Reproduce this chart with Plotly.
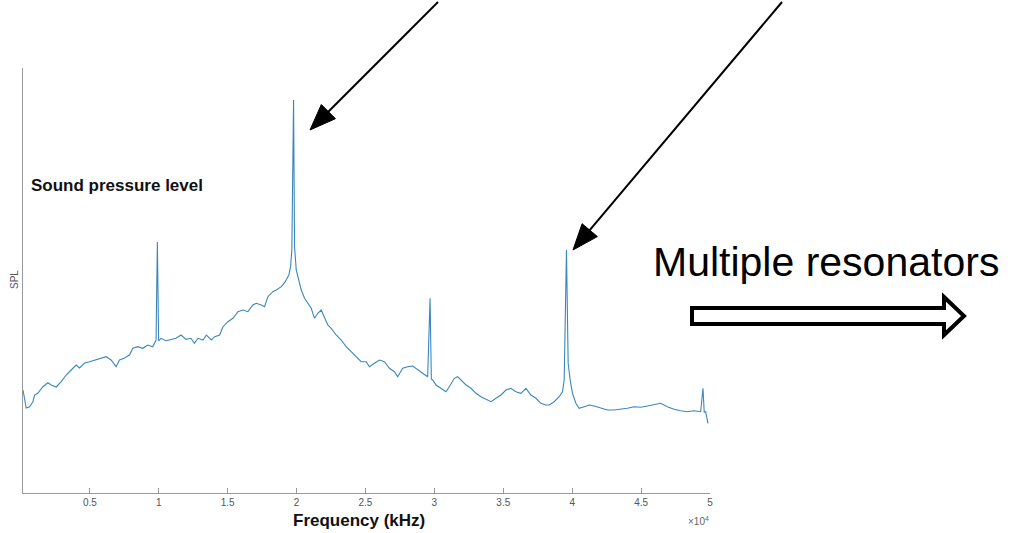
import math
import plotly.graph_objects as go

# Frequency (Hz) and SPL (arbitrary units)
freq_hz = [150, 384, 630, 870, 993, 1232, 1594, 1956, 2196, 2558, 2920, 3282, 3645, 4007, 4253,
           4616, 4978, 5340, 5819, 6181, 6543, 6906, 7152, 7514, 7876, 8116, 8478, 8841, 9203,
           9565, 9804, 9900, 9990, 10166, 10528, 10891, 11253, 11615, 11978, 12340, 12587,
           12847, 13210, 13456, 13818, 14057, 14420, 14659, 15021, 15383, 15746, 16108, 16470,
           16832, 17079, 17441, 17680, 17919, 18282, 18528, 18891, 19180, 19441, 19564, 19658,
           19782, 19854, 19977, 20093, 20339, 20579, 20818, 21064, 21303, 21542, 21789, 22028,
           22267, 22513, 22876, 23238, 23600, 23962, 24325, 24687, 25049, 25289, 25651, 26013,
           26375, 26738, 27100, 27339, 27701, 28064, 28426, 28789, 29151, 29513, 29687, 29780,
           29875, 30121, 30484, 30846, 31085, 31448, 31687, 31933, 32296, 32658, 33020, 33382,
           33745, 34107, 34469, 34832, 35194, 35556, 35918, 36281, 36643, 37005, 37368, 37730,
           38092, 38331, 38694, 39056, 39295, 39418, 39585, 39708, 39853, 40019, 40266, 40505,
           40867, 41229, 41592, 42077, 42556, 43041, 43526, 44005, 44490, 44975, 45461, 45940,
           46425, 46904, 47389, 47874, 48352, 48837, 49323, 49490, 49580, 49685, 49852]
spl = [103, 85, 86.3, 91.3, 98, 100, 106.3, 110.3, 108, 106, 111.3, 118, 123, 128, 125,
       130, 131.3, 133, 135, 136.3, 133, 126.3, 133, 135, 138, 144.7, 146.3, 144.7, 148,
       146.3, 153, 251, 152, 154.7, 152.3, 153.7, 154.7, 158, 153.7, 154.7, 149.7,
       154.7, 153, 158, 153, 156.3, 158, 166.3, 171.3, 174.7, 181.3, 183, 181.3,
       188, 189.7, 188, 186.3, 196.3, 201.3, 203, 206.3, 211.3, 218, 226.3, 243,
       393, 246.3, 223, 216.3, 203, 194.7, 189.7, 184.7, 174.7, 179.7, 183, 176.3,
       168, 164.7, 158, 153, 146.3, 141.3, 136.3, 131.3, 131.3, 126.3, 129.7, 133,
       131.3, 124.7, 121.3, 116.3, 124.7, 126.3, 127, 123, 119.7, 116.3, 194.7, 114,
       113, 108, 104.7, 101.3, 106.3, 114.7, 116.3, 113, 108, 104.7, 99.7, 96.3,
       93.7, 91.3, 94.7, 98, 103, 104.7, 101.3, 99.7, 104.7, 98, 94.7, 89.7,
       88, 88, 91.3, 96.3, 101.3, 113, 243, 129.7, 113, 99.7, 89.7, 84.7,
       86.3, 88, 87, 84.7, 83, 83, 83.7, 84.7, 86.3, 85.7, 87, 88,
       89.7, 86.3, 83.7, 82.3, 81.3, 82.3, 81.3, 104.7, 81, 81.3, 69.7]

tick_vals = [5000, 10000, 15000, 20000, 25000, 30000, 35000, 40000, 45000, 50000]
tick_text = ["0.5", "1", "1.5", "2", "2.5", "3", "3.5", "4", "4.5", "5"]

W, H = 1014, 533
L, R, T, B = 23, 710, 68, 493


def px(x):
    return (x - L) / (R - L)


def py(y):
    return (B - y) / (B - T)


fig = go.Figure()
fig.add_trace(go.Scatter(x=freq_hz, y=spl, mode="lines",
                         line=dict(color="#3a87bb", width=1.1), hoverinfo="skip"))

fig.update_layout(
    width=W, height=H,
    margin=dict(l=L, r=W - R, t=T, b=H - B, autoexpand=False),
    paper_bgcolor="white", plot_bgcolor="white",
    showlegend=False,
    font=dict(family="Liberation Sans, Arial", color="#555555"),
    xaxis=dict(range=[150, 50000], tickvals=tick_vals, ticktext=tick_text,
               ticks="inside", ticklen=5, tickcolor="#999999",
               showline=True, linecolor="#999999", linewidth=1,
               showgrid=False, zeroline=False, automargin=False,
               tickfont=dict(size=10, color="#555555")),
    yaxis=dict(range=[0, 425], showticklabels=False, ticks="",
               showline=True, linecolor="#999999", linewidth=1,
               showgrid=False, zeroline=False, automargin=False),
)

ann = []
ann.append(dict(text="<b>Sound pressure level</b>", x=px(117), y=py(186), xref="paper", yref="paper",
                showarrow=False, xanchor="center", yanchor="middle",
                font=dict(size=17, color="#111111", family="Liberation Sans, Arial")))
ann.append(dict(text="SPL", x=px(14), y=py(280), xref="paper", yref="paper", textangle=-90,
                showarrow=False, xanchor="center", yanchor="middle",
                font=dict(size=10, color="#555555")))
ann.append(dict(text="<b>Frequency (kHz)</b>", x=px(359), y=py(520), xref="paper", yref="paper",
                showarrow=False, xanchor="center", yanchor="middle",
                font=dict(size=17, color="#111111", family="Liberation Sans, Arial")))
ann.append(dict(text="×10<sup>4</sup>", x=px(698), y=py(521), xref="paper", yref="paper",
                showarrow=False, xanchor="center", yanchor="middle",
                font=dict(size=10, color="#666666")))
ann.append(dict(text="Multiple resonators", x=px(826), y=py(262), xref="paper", yref="paper",
                showarrow=False, xanchor="center", yanchor="middle",
                font=dict(size=41, color="#000000", family="Liberation Sans, Arial")))
fig.update_layout(annotations=ann)


def arrow(tail, tip, head_len=26, head_half=10):
    dx, dy = tip[0] - tail[0], tip[1] - tail[1]
    n = math.hypot(dx, dy)
    ux, uy = dx / n, dy / n
    bx, by = tip[0] - ux * head_len, tip[1] - uy * head_len
    vx, vy = -uy, ux
    fig.add_shape(type="line", x0=px(tail[0]), y0=py(tail[1]), x1=px(bx + ux * 4), y1=py(by + uy * 4),
                  xref="paper", yref="paper", line=dict(color="#000000", width=2))
    tri = [(tip[0], tip[1]), (bx + vx * head_half, by + vy * head_half),
           (bx - vx * head_half, by - vy * head_half)]
    path = "M " + " L ".join(f"{px(a):.5f},{py(b):.5f}" for a, b in tri) + " Z"
    fig.add_shape(type="path", path=path, xref="paper", yref="paper",
                  line=dict(color="#000000", width=1), fillcolor="#000000")


arrow((438, 2), (310, 130))
arrow((782, 2), (573, 250))

# hollow block arrow
pts = [(692, 308), (944, 308), (944, 297), (964, 316), (944, 335), (944, 324), (692, 324)]
path = "M " + " L ".join(f"{px(a):.5f},{py(b):.5f}" for a, b in pts) + " Z"
fig.add_shape(type="path", path=path, xref="paper", yref="paper",
              line=dict(color="#000000", width=4), fillcolor="white")

fig.write_html("out.html", config={"displayModeBar": False},
               post_script="document.body.style.margin='0';document.body.style.overflow='hidden';")
